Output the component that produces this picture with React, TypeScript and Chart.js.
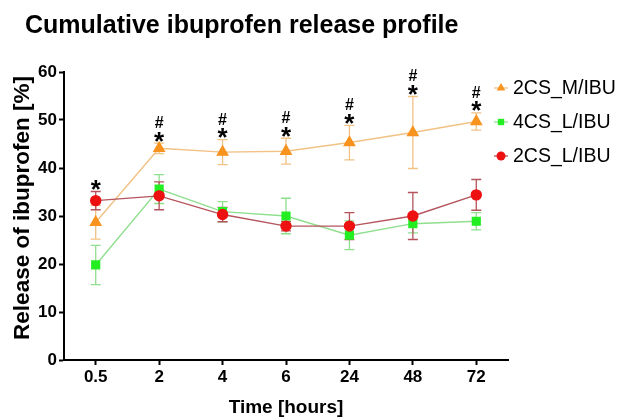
import React, { useEffect, useRef } from "react";
import { Chart, registerables } from "chart.js";

Chart.register(...registerables);

const categories = ["0.5", "2", "4", "6", "24", "48", "72"];
const seriesNames = ["2CS_M/IBU", "4CS_L/IBU", "2CS_L/IBU"];
const m2Values = [28.7, 44.1, 43.3, 43.5, 45.3, 47.4, 49.7];
const m2Errors = [3.5, 1.1, 2.6, 2.7, 3.6, 7.5, 1.8];
const l4Values = [19.8, 35.6, 30.9, 30.0, 26.0, 28.4, 28.9];
const l4Errors = [4.1, 3.0, 2.1, 3.7, 3.0, 1.9, 1.8];
const l2Values = [33.2, 34.2, 30.3, 27.9, 27.9, 30.0, 34.4];
const l2Errors = [1.9, 2.9, 1.5, 1.0, 2.8, 4.9, 3.2];
const starMarks = ["*", "*", "*", "*", "*", "*", "*"];
const hashMarks = ["", "#", "#", "#", "#", "#", "#"];
const yTicks = [0, 10, 20, 30, 40, 50, 60];

const FONT = '"Liberation Sans", Arial, Helvetica, sans-serif';

const errorsByDataset = [m2Errors, l4Errors, l2Errors];

function drawMarker(ctx: CanvasRenderingContext2D, style: string, x: number, y: number, r: number, color: string) {
  ctx.save();
  ctx.fillStyle = color;
  ctx.beginPath();
  if (style === "triangle") {
    ctx.moveTo(x, y - r);
    ctx.lineTo(x + r * 0.866, y + r * 0.5);
    ctx.lineTo(x - r * 0.866, y + r * 0.5);
    ctx.closePath();
  } else if (style === "rect") {
    const s = r * Math.SQRT1_2;
    ctx.rect(x - s, y - s, 2 * s, 2 * s);
  } else {
    ctx.arc(x, y, r, 0, Math.PI * 2);
  }
  ctx.fill();
  ctx.restore();
}

function fillCentered(ctx: CanvasRenderingContext2D, text: string, x: number, cy: number) {
  const m = ctx.measureText(text);
  const asc = m.actualBoundingBoxAscent;
  const desc = m.actualBoundingBoxDescent;
  ctx.fillText(text, x, cy + (asc - desc) / 2);
}

const errorBarPlugin = {
  id: "errorBars",
  beforeDatasetsDraw(chart: any) {
    const { ctx, scales } = chart;
    const xs = scales.x;
    const ys = scales.y;
    chart.data.datasets.forEach((ds: any, di: number) => {
      const errs = errorsByDataset[di];
      ctx.save();
      ctx.strokeStyle = ds.borderColor;
      ctx.lineWidth = 1.3;
      ds.data.forEach((v: number, i: number) => {
        const x = xs.getPixelForValue(i);
        const yt = ys.getPixelForValue(v + errs[i]);
        const yb = ys.getPixelForValue(v - errs[i]);
        ctx.beginPath();
        ctx.moveTo(x, yt);
        ctx.lineTo(x, yb);
        ctx.moveTo(x - 5, yt);
        ctx.lineTo(x + 5, yt);
        ctx.moveTo(x - 5, yb);
        ctx.lineTo(x + 5, yb);
        ctx.stroke();
      });
      ctx.restore();
    });
  },
};

const decorPlugin = {
  id: "decor",
  afterDraw(chart: any) {
    const { ctx, scales, chartArea } = chart;
    const xs = scales.x;
    const ys = scales.y;
    ctx.save();
    // title
    ctx.fillStyle = "#000";
    ctx.font = `bold 25px ${FONT}`;
    ctx.textAlign = "left";
    ctx.textBaseline = "alphabetic";
    ctx.fillText("Cumulative ibuprofen release profile", 25, 33);

    // y-axis title
    ctx.save();
    ctx.translate(23, (chartArea.top + chartArea.bottom) / 2 - 8);
    ctx.rotate(-Math.PI / 2);
    ctx.font = `bold 22.5px ${FONT}`;
    ctx.textAlign = "center";
    ctx.textBaseline = "middle";
    ctx.fillText("Release of ibuprofen [%]", 0, 0);
    ctx.restore();

    // significance marks
    categories.forEach((_c, i) => {
      let top = -Infinity;
      chart.data.datasets.forEach((ds: any, di: number) => {
        top = Math.max(top, ds.data[i] + errorsByDataset[di][i]);
      });
      const py = ys.getPixelForValue(top);
      const x = xs.getPixelForValue(i);
      ctx.textAlign = "center";
      ctx.textBaseline = "alphabetic";
      if (starMarks[i]) {
        ctx.font = `bold 26px ${FONT}`;
        fillCentered(ctx, starMarks[i], x, py - 6.5);
      }
      if (hashMarks[i]) {
        ctx.font = `bold 16px ${FONT}`;
        fillCentered(ctx, hashMarks[i], x, py - 21);
      }
    });

    // legend
    const rows = [88, 122, 156];
    chart.data.datasets.forEach((ds: any, di: number) => {
      const y = rows[di];
      ctx.strokeStyle = ds.borderColor;
      ctx.lineWidth = 1.3;
      ctx.beginPath();
      ctx.moveTo(494, y);
      ctx.lineTo(508, y);
      ctx.stroke();
      drawMarker(ctx, ds.pointStyle, 501, y, ds.pointStyle === "triangle" ? 5 : 4.5, ds.pointBackgroundColor);
      ctx.fillStyle = "#000";
      ctx.font = `19.5px ${FONT}`;
      ctx.textAlign = "left";
      ctx.textBaseline = "middle";
      ctx.fillText(ds.label, 513, y + 1);
    });
    ctx.restore();
  },
};

export default function App() {
  const ref = useRef<HTMLCanvasElement>(null);
  useEffect(() => {
    document.body.style.margin = "0";
    const canvas = ref.current!;
    const chart = new Chart(canvas, {
      type: "line",
      data: {
        labels: categories,
        datasets: [
          {
            label: seriesNames[0],
            data: m2Values,
            borderColor: "#f2c184",
            backgroundColor: "#f7931e",
            pointBackgroundColor: "#f7931e",
            pointBorderColor: "#f7931e",
            pointStyle: "triangle",
            pointRadius: 6,
            borderWidth: 1.4,
            order: 2,
          },
          {
            label: seriesNames[1],
            data: l4Values,
            borderColor: "#8fdf8f",
            backgroundColor: "#22ee22",
            pointBackgroundColor: "#22ee22",
            pointBorderColor: "#22ee22",
            pointStyle: "rect",
            pointRadius: 5.5,
            borderWidth: 1.4,
            order: 1,
          },
          {
            label: seriesNames[2],
            data: l2Values,
            borderColor: "#b5545c",
            backgroundColor: "#ee1111",
            pointBackgroundColor: "#ee1111",
            pointBorderColor: "#ee1111",
            pointStyle: "circle",
            pointRadius: 5,
            borderWidth: 1.4,
            order: 0,
          },
        ] as any,
      },
      options: {
        animation: false,
        responsive: false,
        devicePixelRatio: 1,
        layout: { padding: { left: 0, right: 114, top: 72, bottom: 0 } },
        plugins: {
          legend: { display: false },
          title: { display: false },
          tooltip: { enabled: false },
        },
        scales: {
          x: {
            type: "category",
            offset: true,
            afterFit: (s: any) => {
              s.height = 60;
            },
            grid: {
              drawOnChartArea: false,
              drawTicks: true,
              tickLength: 5,
              tickColor: "#000",
              tickWidth: 2,
              offset: false,
            },
            border: { color: "#000", width: 2 },
            ticks: {
              color: "#000",
              padding: 2,
              font: { family: FONT, size: 17, weight: "bold" },
              maxRotation: 0,
            },
            title: {
              display: true,
              text: "Time [hours]",
              color: "#000",
              font: { family: FONT, size: 19, weight: "bold" },
              padding: { top: 0, bottom: 1 },
            },
          },
          y: {
            min: 0,
            max: 60,
            afterFit: (s: any) => {
              s.width = 64;
            },
            afterBuildTicks: (s: any) => {
              s.ticks = yTicks.map((v) => ({ value: v }));
            },
            grid: {
              drawOnChartArea: false,
              drawTicks: true,
              tickLength: 5,
              tickColor: "#000",
              tickWidth: 2,
            },
            border: { color: "#000", width: 2 },
            ticks: {
              color: "#000",
              padding: 2,
              font: { family: FONT, size: 17, weight: "bold" },
            },
            title: { display: false },
          },
        },
      } as any,
      plugins: [errorBarPlugin, decorPlugin],
    });
    return () => chart.destroy();
  }, []);
  return (
    <canvas
      ref={ref}
      width={622}
      height={420}
      style={{ position: "absolute", left: 0, top: 0, width: 622, height: 420 }}
    />
  );
}
